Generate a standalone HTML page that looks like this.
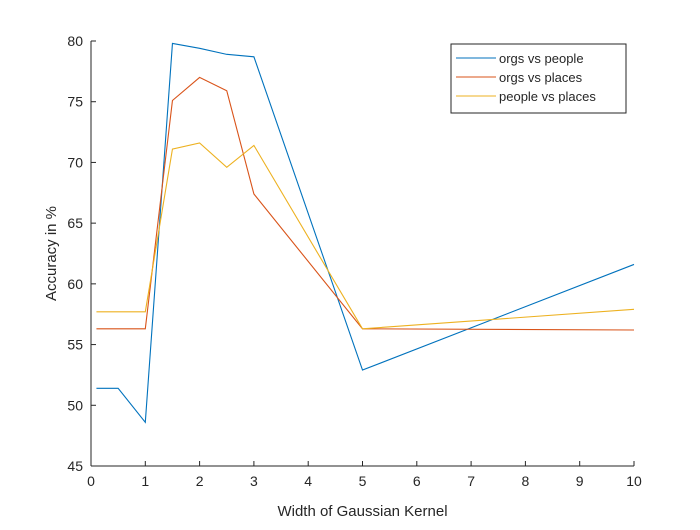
<!DOCTYPE html>
<html><head><meta charset="utf-8"><style>
body{margin:0;background:#fff;font-family:"Liberation Sans",sans-serif}
svg text{font-family:"Liberation Sans",sans-serif;fill:#262626}
</style></head><body>
<svg id="chart" width="700" height="525"></svg>
<script>
const xVals=[0.1,0.5,1,1.5,2,2.5,3,5,10];
const orgsPeople=[51.4,51.4,48.6,79.8,79.4,78.9,78.7,52.9,61.6];
const orgsPlaces=[56.3,56.3,56.3,75.1,77.0,75.9,67.4,56.3,56.2];
const peoplePlaces=[57.7,57.7,57.7,71.1,71.6,69.6,71.4,56.3,57.9];
const xTicks=[0,1,2,3,4,5,6,7,8,9,10];
const yTicks=[45,50,55,60,65,70,75,80];
const seriesNames=["orgs vs people","orgs vs places","people vs places"];
const colors=["#0072BD","#D95319","#EDB120"];
const NS="http://www.w3.org/2000/svg";
const svg=document.getElementById('chart');
const X0=91,X1=634,Y0=466,Y1=41;
const sx=v=>X0+(v-0)/(10-0)*(X1-X0);
const sy=v=>Y0-(v-45)/(80-45)*(Y0-Y1);
function mk(t,a){const e=document.createElementNS(NS,t);for(const k in a)e.setAttribute(k,a[k]);svg.appendChild(e);return e;}
let ax=mk('line',{x1:X0,y1:Y0,x2:X1,y2:Y0,stroke:'#262626','stroke-width':1});


let ay=mk('line',{x1:X0,y1:Y0,x2:X0,y2:Y1,stroke:'#262626','stroke-width':1});


xTicks.forEach(t=>{
 mk('line',{x1:sx(t),y1:Y0,x2:sx(t),y2:Y0-5,stroke:'#262626'});
 const tx=mk('text',{x:sx(t),y:Y0+20,'text-anchor':'middle','font-size':14});
 tx.textContent=t;
 
 
});
yTicks.forEach(t=>{
 mk('line',{x1:X0,y1:sy(t),x2:X0+5,y2:sy(t),stroke:'#262626'});
 const tx=mk('text',{x:X0-8,y:sy(t)+5,'text-anchor':'end','font-size':14});
 tx.textContent=t;
 
 
});
const xl=mk('text',{x:(X0+X1)/2,y:516,'text-anchor':'middle','font-size':15});
xl.textContent='Width of Gaussian Kernel';


const yl=mk('text',{x:0,y:0,'text-anchor':'middle','font-size':15,transform:`translate(56,${(Y0+Y1)/2}) rotate(-90)`});
yl.textContent='Accuracy in %';


[orgsPeople,orgsPlaces,peoplePlaces].forEach((s,i)=>{
 const p=mk('polyline',{points:s.map((v,j)=>sx(xVals[j])+','+sy(v)).join(' '),fill:'none',stroke:colors[i],'stroke-width':1.1});
 
 
});
const lg=mk('rect',{x:451,y:44,width:175,height:69,fill:'#fff',stroke:'#262626','stroke-width':1});


seriesNames.forEach((n,i)=>{
 const y=58+i*19;
 mk('line',{x1:456,y1:y,x2:496,y2:y,stroke:colors[i],'stroke-width':1.1});
 const t=mk('text',{x:499,y:y+5,'font-size':13});
 t.textContent=n;
 
 
});
</script>
</body></html>
